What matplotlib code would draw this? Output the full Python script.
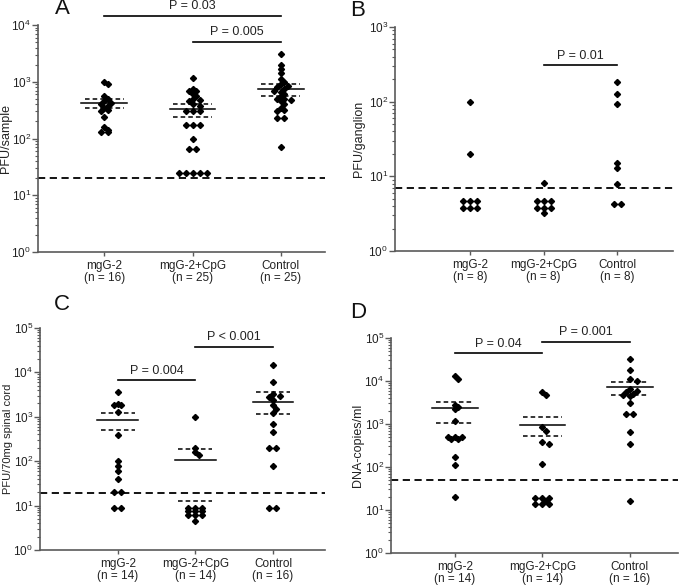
import numpy as np
import matplotlib
matplotlib.use("Agg")
import matplotlib.pyplot as plt
from matplotlib.ticker import LogLocator, NullFormatter

plt.rcParams['font.family'] = ['Liberation Sans', 'DejaVu Sans']
plt.rcParams['mathtext.default'] = 'regular'

groups = ["mgG-2", "mgG-2+CpG", "Control"]

# ---- panel A: PFU/sample ----
a_n = [16, 25, 25]
a_mgg2 = [1000, 900, 550, 500, 450, 420, 400, 380, 350, 320, 300, 240, 160, 140, 130, 130]
a_cpg = [1150, 750, 700, 700, 600, 550, 500, 480, 450, 400, 380, 300, 300, 300,
         170, 170, 170, 100, 65, 65, 25, 25, 25, 25, 25]
a_ctrl = [3100, 2000, 1700, 1400, 1100, 1000, 900, 850, 800, 750, 700, 650, 600,
          550, 500, 500, 480, 450, 400, 350, 320, 300, 230, 230, 70]
a_mid = [420, 330, 740]
a_hi = [490, 410, 900]
a_lo = [340, 237, 570]
a_lod = 20
a_ptext = ["P = 0.03", "P = 0.005"]
a_pairs = [(0, 2), (1, 2)]
a_pbar = [1.46e4, 5.1e3]

# ---- panel B: PFU/ganglion ----
b_n = [8, 8, 8]
b_mgg2 = [100, 20, 4.7, 4.7, 4.7, 3.8, 3.8, 3.8]
b_cpg = [8.2, 4.7, 4.7, 4.7, 3.8, 3.8, 3.8, 3.2]
b_ctrl = [185, 125, 92, 15, 13, 8, 4.3, 4.3]
b_lod = 7
b_ptext = ["P = 0.01"]
b_pairs = [(1, 2)]
b_pbar = [310]

# ---- panel C: PFU/70mg spinal cord ----
c_n = [14, 14, 16]
c_mgg2 = [3600, 1900, 1800, 1800, 1300, 380, 100, 80, 60, 40, 20, 20, 9, 9]
c_cpg = [1000, 200, 160, 140, 9, 9, 9, 7.5, 7.5, 7.5, 6, 6, 6, 4.5]
c_ctrl = [15000, 6000, 3200, 3000, 2800, 2400, 1800, 1500, 1200, 700, 450, 200, 200, 80, 9, 9]
c_mid = [850, 105, 2200]
c_hi = [1200, 190, 3600]
c_lo = [500, 12.5, 1150]
c_lod = 19
c_ptext = ["P = 0.004", "P < 0.001"]
c_pairs = [(0, 1), (1, 2)]
c_pbar = [6600, 3.8e4]

# ---- panel D: DNA-copies/ml ----
d_n = [14, 14, 16]
d_mgg2 = [13000, 11000, 2800, 2500, 2200, 1200, 500, 500, 500, 450, 450, 170, 110, 20]
d_cpg = [5500, 4800, 850, 700, 380, 350, 115, 19, 19, 19, 16, 14, 14, 14]
d_ctrl = [33000, 18000, 11000, 10000, 6500, 6000, 5500, 5000, 4800, 4500, 3000,
          1700, 1700, 650, 340, 16]
d_mid = [2300, 950, 7200]
d_hi = [3300, 1450, 9500]
d_lo = [1050, 520, 4800]
d_lod = 50
d_ptext = ["P = 0.04", "P = 0.001"]
d_pairs = [(0, 1), (1, 2)]
d_pbar = [4.4e4, 8.2e4]

W, H = 696, 585
fig = plt.figure(figsize=(W / 100, H / 100), dpi=100)

AXCOL = "#5a5a5a"
TXT = "#222222"


def px_box(l, t, r, b):
    return [l / W, 1 - b / H, (r - l) / W, (b - t) / H]


def swarm(ax, xc, vals, step=7.0, thr=4.0):
    # spread points of equal / close values sideways, graphpad style
    to_disp = ax.transData.transform
    ppx = to_disp((1, 1))[0] - to_disp((0, 1))[0]
    vals = sorted(vals, reverse=True)
    placed = []
    xs = []
    i = 0
    while i < len(vals):
        j = i
        while j < len(vals) and vals[j] == vals[i]:
            j += 1
        k = j - i
        yd = to_disp((xc, vals[i]))[1]
        if k > 1:
            offs = [(m - (k - 1) / 2) * step for m in range(k)]
        else:
            offs = [0]
            for cand in [0, 0.5, -0.5, 1, -1, 1.5, -1.5, 2, -2]:
                ok = all((cand * step - px) ** 2 + (yd - py) ** 2 >= thr ** 2
                         for px, py in placed)
                if ok:
                    offs = [cand * step]
                    break
        for o in offs:
            placed.append((o, yd))
            xs.append(xc + o / ppx)
        i = j
    ax.plot(xs, vals, ls="none", marker="D", ms=3.1, color="black", zorder=3)


def panel(box, letter, letter_xy, ylabel, ylabel_x, series, n, ymax, xlim, lod,
          ptext, pairs, pbar, mid=None, hi=None, lo=None, ylabel_size=9):
    ax = fig.add_axes(px_box(*box))
    ax.set_yscale("log")
    ax.set_ylim(1, ymax)
    ax.set_xlim(*xlim)
    for s in ["top", "right"]:
        ax.spines[s].set_visible(False)
    for s in ["left", "bottom"]:
        ax.spines[s].set_color(AXCOL)
        ax.spines[s].set_linewidth(1.2)
    ax.yaxis.set_major_locator(LogLocator(base=10, numticks=10))
    ax.yaxis.set_minor_locator(LogLocator(base=10, subs=np.arange(2, 10), numticks=10))
    ax.yaxis.set_minor_formatter(NullFormatter())
    ax.set_yticks(ax.get_yticks())
    ax.set_yticklabels([f"$10^{{{int(round(np.log10(t)))}}}$" for t in ax.get_yticks()])
    ax.set_ylim(1, ymax)
    ax.tick_params(axis="y", which="major", length=4, width=1, color=AXCOL,
                   labelsize=8.5, pad=1, labelcolor=TXT)
    ax.tick_params(axis="y", which="minor", length=2, width=0.8, color=AXCOL)
    ax.set_xticks(range(3))
    ax.set_xticklabels([f"{g}\n(n = {k})" for g, k in zip(groups, n)])
    for t in ax.get_xticklabels():
        t.set_linespacing(1.05)
    ax.tick_params(axis="x", length=3, width=1, color=AXCOL, labelsize=8.5,
                   pad=2.5, labelcolor=TXT)
    ax.set_ylabel(ylabel, fontsize=ylabel_size, color=TXT)
    ax.yaxis.set_label_coords((ylabel_x - box[0]) / (box[2] - box[0]), 0.5)

    ax.axhline(lod, color="black", lw=1.3, dashes=(4, 2.5), zorder=2)

    for xc, vals in enumerate(series):
        swarm(ax, xc, vals)
    if mid is not None:
        for xc in range(3):
            ax.plot([xc - 0.26, xc + 0.26], [mid[xc]] * 2, color="black", lw=1.1, zorder=4)
            ax.plot([xc - 0.22, xc + 0.22], [hi[xc]] * 2, color="black", lw=1.1,
                    dashes=(3, 2), zorder=4)
            ax.plot([xc - 0.22, xc + 0.22], [lo[xc]] * 2, color="black", lw=1.1,
                    dashes=(3, 2), zorder=4)

    for (g0, g1), yv, txt in zip(pairs, pbar, ptext):
        ax.plot([g0, g1], [yv, yv], color="black", lw=1.2, clip_on=False)
        ax.annotate(txt, xy=((g0 + g1) / 2, yv), xytext=(0, 2.5), textcoords="offset points",
                    ha="center", va="bottom", fontsize=9, color=TXT,
                    annotation_clip=False)

    fig.text(letter_xy[0] / W, 1 - letter_xy[1] / H, letter, ha="center", va="center",
             fontsize=16, color="#111111")
    return ax


panel((38, 25, 325, 252), "A", (62, 9), "PFU/sample", 12.5, [a_mgg2, a_cpg, a_ctrl], a_n,
      1e4, (-0.75, 2.5), a_lod, a_ptext, a_pairs, a_pbar, a_mid, a_hi, a_lo)
panel((395, 27, 673, 251), "B", (358, 11), "PFU/ganglion", 365, [b_mgg2, b_cpg, b_ctrl], b_n,
      1e3, (-1.02, 2.76), b_lod, b_ptext, b_pairs, b_pbar)
panel((40, 328, 325, 550), "C", (62, 305), "PFU/70mg spinal cord", 13,
      [c_mgg2, c_cpg, c_ctrl], c_n, 1e5, (-1.0, 2.67), c_lod, c_ptext, c_pairs, c_pbar,
      c_mid, c_hi, c_lo, ylabel_size=8)
panel((391, 338, 678, 553), "D", (358, 313), "DNA-copies/ml", 364,
      [d_mgg2, d_cpg, d_ctrl], d_n, 1e5, (-0.73, 2.55), d_lod, d_ptext, d_pairs, d_pbar,
      d_mid, d_hi, d_lo)

fig.savefig("out.png", dpi=100)
